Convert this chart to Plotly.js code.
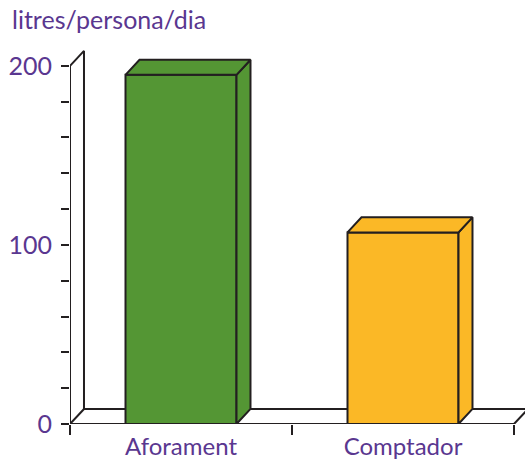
<!DOCTYPE html>
<html>
<head>
<meta charset="utf-8">
<script src="https://cdn.plot.ly/plotly-3.0.1.min.js"></script>
<style>html,body{margin:0;padding:0;background:#fff;}#chart{width:525px;height:463px;}</style>
</head>
<body>
<div id="chart"></div>
<script>
// ---- data ----
const categories = ['Aforament', 'Comptador'];
const values = [195, 107];
const barColors = ['#549634', '#fbb826'];
const yTickVals = [0, 100, 200];
const yTickText = ['0', '100', '200'];
const yTitle = 'litres/persona/dia';

// ---- style constants ----
const BAR_W = 0.5;      // bar width in category units
const DX = 0.063;       // 3D depth (x, category units)
const DY = 8.4;         // 3D depth (y, value units)
const Y_TOP = 200;      // top of the drawn wall
const LINE = '#231f20';
const PURPLE = '#5a3790';
const FONT = 'Lato, "Noto Sans", sans-serif';

const xs = categories.map((c, i) => i);
const xL = -0.5, xR = categories.length - 0.5;

// frame: front axes, back wall, floor (floor back line broken behind bar front faces)
const fx = [], fy = [];
function seg(x0, y0, x1, y1) { fx.push(x0, x1, null); fy.push(y0, y1, null); }
seg(xL, 0, xL, Y_TOP);                 // front y axis
seg(xL, 0, xR, 0);                     // front x axis
seg(xL + DX, DY, xL + DX, Y_TOP + DY); // back vertical
seg(xL, Y_TOP, xL + DX, Y_TOP + DY);   // top diagonal
seg(xL, 0, xL + DX, DY);               // bottom-left diagonal
seg(xR, 0, xR + DX, DY);               // bottom-right diagonal
let start = xL + DX;
xs.forEach(x => { seg(start, DY, x - BAR_W / 2, DY); start = x + BAR_W / 2; });
seg(start, DY, xR + DX, DY);

const traces = [{
  type: 'scatter', mode: 'lines', x: fx, y: fy,
  line: { color: LINE, width: 2 }, hoverinfo: 'skip', showlegend: false
}];

// bar 3D faces (side + top) as filled polygons computed from values
xs.forEach((x, i) => {
  const v = values[i], l = x - BAR_W / 2, r = x + BAR_W / 2;
  traces.push({
    type: 'scatter', mode: 'lines', fill: 'toself', fillcolor: barColors[i],
    x: [r, r + DX, r + DX, r, r], y: [0, DY, v + DY, v, 0],
    line: { color: LINE, width: 2 }, hoverinfo: 'skip', showlegend: false
  });
  traces.push({
    type: 'scatter', mode: 'lines', fill: 'toself', fillcolor: barColors[i],
    x: [l, l + DX, r + DX, r, l], y: [v, v + DY, v + DY, v, v],
    line: { color: LINE, width: 2 }, hoverinfo: 'skip', showlegend: false
  });
});

// front faces
traces.push({
  type: 'bar', x: xs, y: values, width: BAR_W,
  marker: { color: barColors, line: { color: LINE, width: 2 } },
  hoverinfo: 'skip', showlegend: false
});

const layout = {
  width: 525, height: 463,
  margin: { l: 70, r: 0, t: 39, b: 39 },
  paper_bgcolor: '#fff', plot_bgcolor: '#fff',
  showlegend: false,
  font: { family: FONT, color: PURPLE, size: 24 },
  title: {
    text: yTitle, font: { family: FONT, color: PURPLE, size: 25 },
    x: 12 / 525, xanchor: 'left', xref: 'container',
    y: 1 - 11 / 463, yanchor: 'top', yref: 'container', pad: { t: 0, b: 0 }
  },
  xaxis: {
    range: [xL, xR + 11 / 222], showgrid: false, zeroline: false, showline: false,
    tickmode: 'array', tickvals: xs, ticktext: categories, ticks: '',
    ticklabelstandoff: 6,
    tickfont: { family: FONT, color: PURPLE, size: 24 },
    minor: { tickmode: 'array', tickvals: [xL, 0.5, xR], ticks: 'outside', ticklen: 10, tickwidth: 2, tickcolor: LINE, showgrid: false },
    fixedrange: true
  },
  yaxis: {
    range: [0, 215], showgrid: false, zeroline: false, showline: false,
    tickmode: 'array', tickvals: yTickVals, ticktext: yTickText,
    ticks: 'outside', ticklen: 8, tickwidth: 2, tickcolor: LINE,
    ticklabelstandoff: 4,
    tickfont: { family: FONT, color: PURPLE, size: 25 },
    minor: { tickmode: 'linear', tick0: 0, dtick: 20, ticks: 'outside', ticklen: 8, tickwidth: 2, tickcolor: LINE, showgrid: false },
    fixedrange: true
  }
};

Plotly.newPlot('chart', traces, layout, { displayModeBar: false, staticPlot: true });
</script>
</body>
</html>
